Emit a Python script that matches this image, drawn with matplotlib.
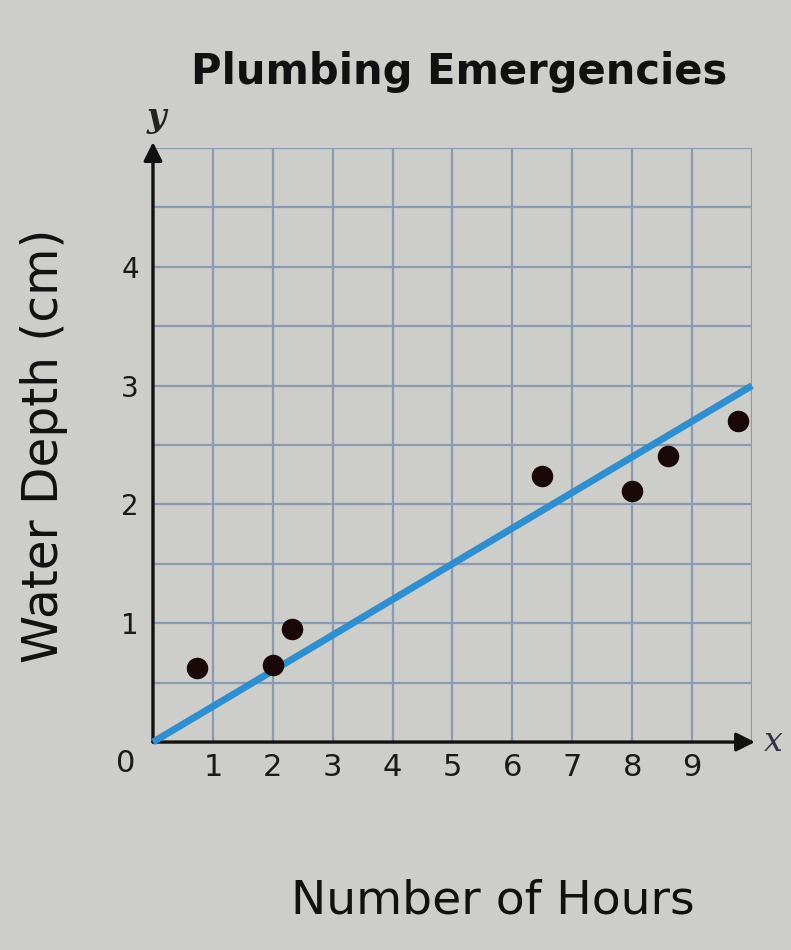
import matplotlib
matplotlib.use("Agg")
import matplotlib.pyplot as plt

# Data
hours = [0.73, 2.0, 2.32, 6.5, 8.0, 8.6, 9.77]
depth = [0.62, 0.65, 0.95, 2.24, 2.11, 2.41, 2.70]
fit_x = [0, 10]
fit_y = [0, 3.0]
x_tick_vals = [1, 2, 3, 4, 5, 6, 7, 8, 9]
y_tick_vals = [1, 2, 3, 4]

bg = "#cdcdca"
fig = plt.figure(figsize=(7.91, 9.5), dpi=100, facecolor=bg)
ax = fig.add_axes([0.1934, 0.2189, 0.7573, 0.6253], facecolor=bg)
ax.set_xlim(0, 10)
ax.set_ylim(0, 5)

# grid
for gx in range(1, 11):
    ax.axvline(gx, color="#8a9ab3", lw=1.6, zorder=1)
for k in range(1, 11):
    ax.axhline(k * 0.5, color="#8a9ab3", lw=1.6, zorder=1)

for s in ax.spines.values():
    s.set_visible(False)

ax.set_xticks(x_tick_vals)
ax.set_xticklabels([str(v) for v in x_tick_vals])
ax.set_yticks(y_tick_vals)
ax.set_yticklabels([str(v) for v in y_tick_vals])
ax.tick_params(length=0, colors="#1a1a1a")
ax.tick_params(axis="x", labelsize=22, pad=8)
ax.tick_params(axis="y", labelsize=20, pad=10)
ax.text(-0.45, -0.18, "0", fontsize=22, ha="center", va="center", color="#1a1a1a", clip_on=False)

# axes arrows
ax.annotate("", xy=(10.05, 0), xytext=(0, 0),
            arrowprops=dict(arrowstyle="-|>", lw=2.4, color="#111111", mutation_scale=28,
                            shrinkA=0, shrinkB=0), annotation_clip=False, zorder=3)
ax.annotate("", xy=(0, 5.05), xytext=(0, 0),
            arrowprops=dict(arrowstyle="-|>", lw=2.4, color="#111111", mutation_scale=28,
                            shrinkA=0, shrinkB=0), annotation_clip=False, zorder=3)
ax.text(10.35, 0.0, "x", fontsize=24, family="DejaVu Serif", style="italic",
        ha="center", va="center", color="#333344", clip_on=False)
ax.text(0.05, 5.26, "y", fontsize=24, family="DejaVu Serif", style="italic", weight="bold",
        ha="center", va="center", color="#222222", clip_on=False)

# line of fit and points
ax.plot(fit_x, fit_y, color="#2b8fd2", lw=5, solid_capstyle="butt", zorder=4, clip_on=False)
ax.scatter(hours, depth, s=210, color="#1a0808", zorder=5, clip_on=False)

fig.text(0.58, 0.924, "Plumbing Emergencies", fontsize=30, weight="bold",
         ha="center", va="center", color="#111111")
fig.text(0.056, 0.531, "Water Depth (cm)", fontsize=35, rotation=90,
         ha="center", va="center", color="#111111")
fig.text(0.623, 0.052, "Number of Hours", fontsize=34,
         ha="center", va="center", color="#111111")

fig.savefig("out.png", dpi=100, facecolor=bg)
